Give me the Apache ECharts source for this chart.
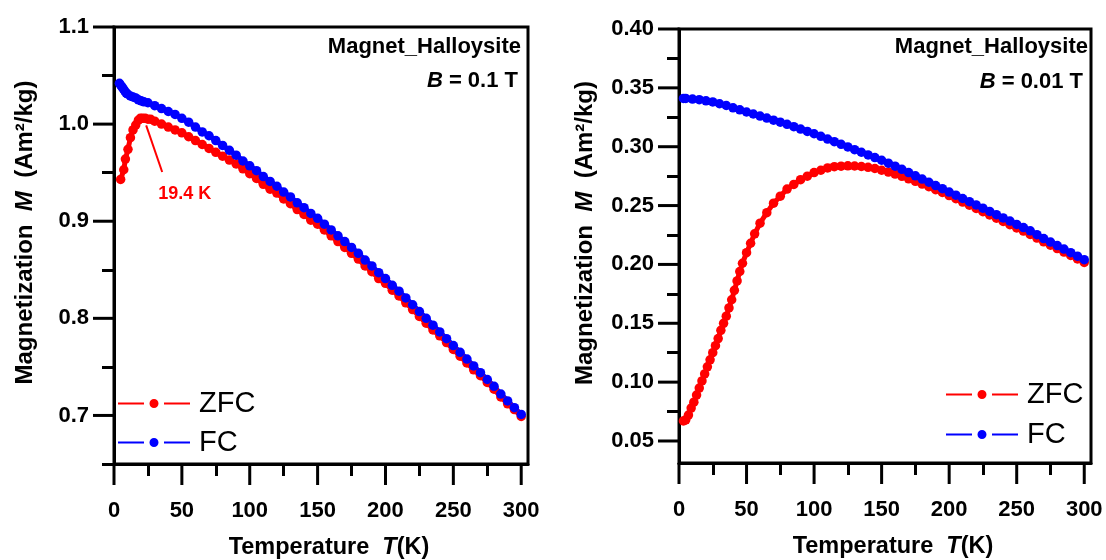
<!DOCTYPE html>
<html>
<head>
<meta charset="utf-8">
<script src="https://cdn.jsdelivr.net/npm/echarts@6/dist/echarts.min.js"></script>
<style>
html, body { margin: 0; padding: 0; background: #fff; }
#main { width: 1106px; height: 560px; }
</style>
</head>
<body>
<div id="main"></div>
<script>
// B = 0.1 T panel
var tZfcLeft = [4.9, 7.2, 8.4, 10.3, 12.1, 14, 16, 18, 19.4, 21, 23, 25, 27, 30, 35, 40, 45, 50, 55, 60, 65,
    70, 75, 80, 85, 90, 95, 100, 105, 110, 115, 120, 125, 130, 135, 140, 145, 150, 155, 160, 165, 170, 175, 180,
    185, 190, 195, 200, 205, 210, 215, 220, 225, 230, 235, 240, 245, 250, 255, 260, 265, 270, 275, 280, 285, 290, 295, 300];
var mZfcLeft = [0.943, 0.953, 0.964, 0.974, 0.986, 0.994, 0.999, 1.004, 1.006, 1.006, 1.006, 1.005, 1.005, 1.003, 1.000, 0.997, 0.994, 0.991, 0.987, 0.983, 0.979,
    0.975, 0.971, 0.967, 0.963, 0.959, 0.954, 0.949, 0.944, 0.938, 0.933, 0.929, 0.923, 0.918, 0.912, 0.907, 0.901, 0.897, 0.891, 0.885, 0.879, 0.873, 0.867, 0.861,
    0.854, 0.848, 0.841, 0.836, 0.829, 0.823, 0.816, 0.809, 0.802, 0.795, 0.788, 0.782, 0.775, 0.768, 0.761, 0.754, 0.747, 0.741, 0.734, 0.727, 0.719, 0.712, 0.706, 0.699];

var tFcLeft = [4, 5, 6, 7, 8, 9, 10, 12, 14, 16, 18, 20, 22, 25, 30, 35, 40, 45, 50, 55, 60, 65, 70, 75, 80, 85, 90, 95, 100,
    105, 110, 115, 120, 125, 130, 135, 140, 145, 150, 155, 160, 165, 170, 175, 180, 185, 190, 195, 200,
    205, 210, 215, 220, 225, 230, 235, 240, 245, 250, 255, 260, 265, 270, 275, 280, 285, 290, 295, 300];
var mFcLeft = [1.042, 1.040, 1.038, 1.036, 1.034, 1.032, 1.031, 1.029, 1.028, 1.027, 1.025, 1.024, 1.023, 1.022, 1.019, 1.016, 1.013, 1.010, 1.006, 1.002, 0.997, 0.992, 0.988, 0.983, 0.978, 0.973, 0.968, 0.962, 0.957,
    0.952, 0.946, 0.941, 0.936, 0.930, 0.925, 0.919, 0.914, 0.908, 0.903, 0.897, 0.891, 0.885, 0.879, 0.873, 0.867, 0.860, 0.854, 0.847, 0.841,
    0.834, 0.828, 0.821, 0.814, 0.807, 0.800, 0.793, 0.786, 0.779, 0.772, 0.765, 0.758, 0.751, 0.744, 0.737, 0.730, 0.722, 0.715, 0.708, 0.701];

// B = 0.01 T panel
var tZfcRight = [3.3, 5, 7, 9, 11, 13, 15, 17, 19, 21, 23, 25, 27, 29, 31, 33, 35, 37, 39, 41, 43, 45, 47, 50, 53, 56, 60, 65,
    70, 75, 80, 85, 90, 95, 100, 105, 110, 115, 120, 125, 130, 135, 140, 145, 150, 155, 160, 165, 170, 175, 180,
    185, 190, 195, 200, 205, 210, 215, 220, 225, 230, 235, 240, 245, 250, 255, 260, 265, 270, 275, 280, 285, 290, 295, 300];
var mZfcRight = [0.067, 0.068, 0.072, 0.078, 0.083, 0.089, 0.095, 0.101, 0.107, 0.113, 0.119, 0.125, 0.131, 0.137, 0.144, 0.150, 0.156, 0.163, 0.170, 0.178, 0.186, 0.194, 0.201, 0.210, 0.218, 0.226, 0.235, 0.244,
    0.252, 0.258, 0.264, 0.268, 0.272, 0.275, 0.278, 0.280, 0.282, 0.283, 0.2835, 0.2838, 0.2836, 0.2832, 0.2825, 0.2815, 0.280, 0.2785, 0.2768, 0.2748, 0.2727, 0.2706, 0.2683,
    0.2660, 0.2635, 0.2611, 0.2585, 0.2558, 0.2530, 0.2503, 0.2475, 0.2448, 0.2420, 0.2393, 0.2365, 0.2338, 0.2310, 0.2283, 0.2255, 0.2224, 0.2192, 0.2163, 0.2135, 0.2105, 0.2076, 0.2046, 0.2017];

var tFcRight = [3.3, 5, 10, 15, 20, 25, 30, 35, 40, 45, 50, 55, 60, 65, 70, 75, 80, 85, 90, 95, 100,
    105, 110, 115, 120, 125, 130, 135, 140, 145, 150, 155, 160, 165, 170, 175, 180, 185, 190, 195, 200,
    205, 210, 215, 220, 225, 230, 235, 240, 245, 250, 255, 260, 265, 270, 275, 280, 285, 290, 295, 300];
var mFcRight = [0.341, 0.341, 0.3405, 0.340, 0.339, 0.338, 0.3365, 0.335, 0.333, 0.3313, 0.3295, 0.3278, 0.326, 0.3243, 0.3225, 0.3208, 0.319, 0.317, 0.315, 0.313, 0.311,
    0.3088, 0.3065, 0.3043, 0.302, 0.2998, 0.2975, 0.2953, 0.293, 0.2908, 0.2885, 0.286, 0.2835, 0.2808, 0.278, 0.2753, 0.2725, 0.2698, 0.267, 0.2643, 0.2615,
    0.2588, 0.256, 0.2533, 0.2505, 0.2478, 0.245, 0.2423, 0.2395, 0.2368, 0.234, 0.2313, 0.2285, 0.2253, 0.222, 0.219, 0.216, 0.213, 0.210, 0.207, 0.204];

// tick labels
var xMajor = [0, 50, 100, 150, 200, 250, 300];
var xMinor = [25, 75, 125, 175, 225, 275];
var yMajorLeft = [0.7, 0.8, 0.9, 1.0, 1.1];
var yMinorLeft = [0.65, 0.75, 0.85, 0.95, 1.05];
var yMajorRight = [0.05, 0.10, 0.15, 0.20, 0.25, 0.30, 0.35, 0.40];
var yMinorRight = [0.075, 0.125, 0.175, 0.225, 0.275, 0.325, 0.375];

var FONT = '"Liberation Sans", Arial, sans-serif';
var RED = '#ff0000';
var BLUE = '#0000ff';
var Y_RANGE = [[0.65, 1.1], [0.0313, 0.40]];

function pairs(t, m) {
    return t.map(function (v, i) { return [v, m[i]]; });
}

// axis carrying line, labels and title
function labelX(gridIndex) {
    return {
        type: 'value', gridIndex: gridIndex, min: 0, max: 305, position: 'bottom',
        axisLine: { show: true, lineStyle: { color: '#000', width: 3 } },
        axisTick: { show: false },
        axisLabel: { customValues: xMajor.slice(), margin: 36, color: '#000', fontSize: 22, fontWeight: 'bold', fontFamily: FONT },
        splitLine: { show: false },
        name: 'Temperature  {i|T}(K)',
        nameLocation: 'middle',
        nameGap: 72,
        nameTextStyle: {
            color: '#000', fontSize: 23.5, fontWeight: 'bold', fontFamily: FONT, padding: [0, 0, 0, 16],
            rich: { i: { fontStyle: 'italic', fontWeight: 'bold', fontSize: 23.5, fontFamily: FONT, color: '#000' } }
        }
    };
}
// axis carrying only the short tick marks
function tickX(gridIndex, ticks, len) {
    return {
        type: 'value', gridIndex: gridIndex, min: 0, max: 305, position: 'bottom',
        axisLine: { show: false },
        axisTick: { show: true, length: len, customValues: ticks.slice(), lineStyle: { color: '#000', width: 3 } },
        axisLabel: { show: false },
        splitLine: { show: false }
    };
}
function labelY(gridIndex, ticks, digits, gap) {
    return {
        type: 'value', gridIndex: gridIndex, min: Y_RANGE[gridIndex][0], max: Y_RANGE[gridIndex][1], position: 'left',
        axisLine: { show: true, lineStyle: { color: '#000', width: 3 } },
        axisTick: { show: false },
        axisLabel: {
            customValues: ticks.slice(), margin: 25, color: '#000', fontSize: 22, fontWeight: 'bold', fontFamily: FONT,
            formatter: function (v) { return v.toFixed(digits); }
        },
        splitLine: { show: false },
        name: 'Magnetization  {i|M}  (Am²/kg)',
        nameLocation: 'middle',
        nameGap: gap,
        nameTextStyle: {
            color: '#000', fontSize: 24, fontWeight: 'bold', fontFamily: FONT, padding: [0, 0, 0, 26],
            rich: { i: { fontStyle: 'italic', fontWeight: 'bold', fontSize: 24, fontFamily: FONT, color: '#000' } }
        }
    };
}
function tickY(gridIndex, ticks, len) {
    return {
        type: 'value', gridIndex: gridIndex, min: Y_RANGE[gridIndex][0], max: Y_RANGE[gridIndex][1], position: 'left',
        axisLine: { show: false },
        axisTick: { show: true, length: len, customValues: ticks.slice(), lineStyle: { color: '#000', width: 3 } },
        axisLabel: { show: false },
        splitLine: { show: false }
    };
}
function lineSeries(name, color, data, xi, extra) {
    var s = {
        name: name, type: 'line', xAxisIndex: xi, yAxisIndex: xi,
        data: data, symbol: 'circle', symbolSize: 9.5,
        itemStyle: { color: color },
        lineStyle: { color: color, width: 5 },
        animation: false
    };
    if (extra) Object.assign(s, extra);
    return s;
}

var legendIcon = 'path://M0,3.5H26V5.5H0Z M46,3.5H72V5.5H46Z M36,0A4.5,4.5,0,1,1,35.99,0Z';
function legendItem(name, left, top) {
    return {
        data: [name], left: left, top: top, orient: 'vertical', padding: 0,
        icon: legendIcon, itemWidth: 72, itemHeight: 9,
        selectedMode: false,
        textStyle: { color: '#000', fontSize: 29, fontFamily: FONT, padding: [0, 0, 0, 4] }
    };
}
function note(text, right, top) {
    return {
        text: text, right: right, top: top, padding: 0,
        textStyle: {
            color: '#000', fontSize: 22, fontWeight: 'bold', fontFamily: FONT,
            rich: {
                i: { fontStyle: 'italic', fontWeight: 'bold', fontSize: 22, fontFamily: FONT, color: '#000' },
                n: { fontWeight: 'bold', fontSize: 22, fontFamily: FONT, color: '#000' }
            }
        }
    };
}

var chart = echarts.init(document.getElementById('main'), null, { renderer: 'canvas' });
var option = {
    backgroundColor: '#fff',
    animation: false,
    title: [
        note('Magnet_Halloysite', 585, 36),
        note('{i|B}{n| = 0.1 T}', 588, 70),
        note('Magnet_Halloysite', 18, 36),
        note('{i|B}{n| = 0.01 T}', 23, 71)
    ],
    legend: [
        legendItem('ZFC', 118, 389),
        legendItem('FC', 118, 428),
        legendItem('ZFC', 946, 380),
        legendItem('FC', 946, 420)
    ],
    grid: [
        { left: 114, top: 27, width: 414, height: 437, outerBoundsMode: 'none', show: true, borderColor: '#000', borderWidth: 3, backgroundColor: 'transparent' },
        { left: 679, top: 29, width: 412, height: 434, outerBoundsMode: 'none', show: true, borderColor: '#000', borderWidth: 3, backgroundColor: 'transparent' }
    ],
    xAxis: [labelX(0), tickX(0, xMinor, 12), labelX(1), tickX(1, xMinor, 12)],
    yAxis: [
        labelY(0, yMajorLeft, 1, 77), tickY(0, yMinorLeft, 12),
        labelY(1, yMajorRight, 2, 82), tickY(1, yMinorRight, 12)
    ],
    series: [
        lineSeries('ZFC', RED, pairs(tZfcLeft, mZfcLeft), 0, {
            markLine: {
                silent: true, animation: false,
                symbol: ['none', 'arrow'], symbolSize: [0, 13],
                lineStyle: { color: RED, width: 2, type: 'solid' },
                label: { show: false },
                data: [[{ coord: [35.5, 0.9507] }, { coord: [23.7, 0.9987] }]]
            },
            markPoint: {
                silent: true, animation: false,
                data: [{
                    coord: [52.1, 0.928], symbol: 'rect', symbolSize: 1,
                    itemStyle: { color: 'rgba(0,0,0,0)' },
                    label: { show: true, position: 'inside', formatter: '19.4 K', color: RED, fontSize: 18, fontWeight: 'bold', fontFamily: FONT }
                }]
            }
        }),
        lineSeries('FC', BLUE, pairs(tFcLeft, mFcLeft), 0),
        lineSeries('ZFC', RED, pairs(tZfcRight, mZfcRight), 2),
        lineSeries('FC', BLUE, pairs(tFcRight, mFcRight), 2)
    ]
};
chart.setOption(option);

// long (major) ticks, placed through each panel's own scales
var majorTicks = [];
[[0, yMajorLeft], [2, yMajorRight]].forEach(function (g) {
    var finder = { seriesIndex: g[0] };
    var yMin = Y_RANGE[g[0] / 2][0];
    xMajor.forEach(function (v) {
        var p = chart.convertToPixel(finder, [v, yMin]);
        majorTicks.push({ type: 'line', silent: true, z: 100,
            shape: { x1: p[0], y1: p[1], x2: p[0], y2: p[1] + 21 },
            style: { stroke: '#000', lineWidth: 3 } });
    });
    g[1].forEach(function (v) {
        var p = chart.convertToPixel(finder, [0, v]);
        majorTicks.push({ type: 'line', silent: true, z: 100,
            shape: { x1: p[0] - 21, y1: p[1], x2: p[0], y2: p[1] },
            style: { stroke: '#000', lineWidth: 3 } });
    });
});
chart.setOption({ graphic: { elements: majorTicks } });
</script>
</body>
</html>
